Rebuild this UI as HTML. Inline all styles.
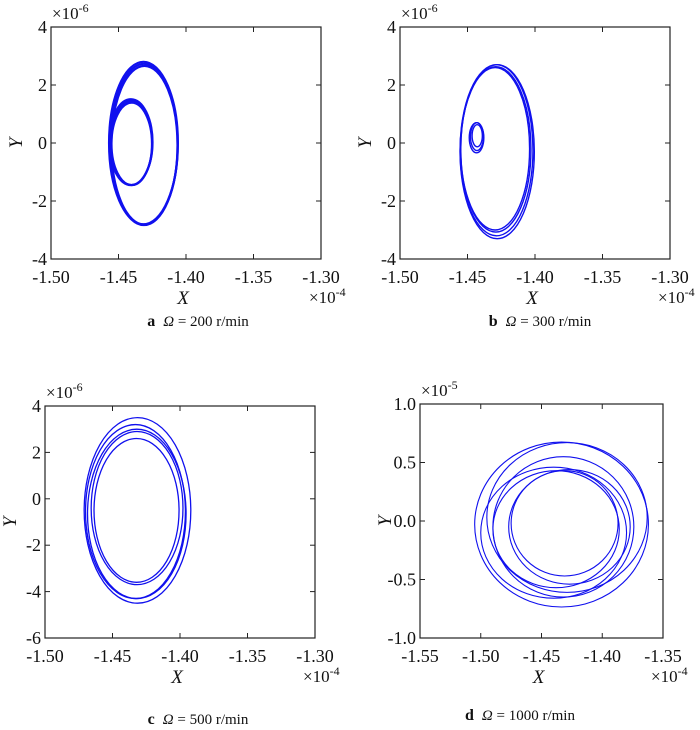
<!DOCTYPE html>
<html><head><meta charset="utf-8"><style>
body{margin:0;background:#fff;}
svg{display:block;font-family:"Liberation Serif",serif;}
</style></head><body>
<svg id="fig" width="700" height="730" viewBox="0 0 700 730"></svg>
<script>
// Panel a (Ω=200)
const aCx=[-1.4312,-1.4308,-1.4315,-1.4405,-1.4402,-1.4408];
const aCy=[-0.05,-0.08,0.0,0.0,-0.03,0.03];
const aRx=[0.0250,0.0245,0.0255,0.0155,0.0150,0.0160];
const aRy=[2.78,2.74,2.80,1.45,1.42,1.48];
// Panel b (Ω=300)
const bCx=[-1.4285,-1.4290,-1.4280,-1.4295,-1.4430,-1.4428,-1.4433];
const bCy=[-0.25,-0.22,-0.30,-0.20,0.22,0.25,0.18];
const bRx=[0.0270,0.0260,0.0275,0.0255,0.0048,0.0038,0.0054];
const bRy=[2.95,2.85,3.00,2.80,0.48,0.38,0.52];
// Panel c (Ω=500)
const cCx=[-1.4315,-1.4320,-1.4318,-1.4322,-1.4330];
const cCy=[-0.50,-0.65,-0.40,-0.50,-0.55];
const cRx=[0.0395,0.0365,0.0340,0.0315,0.0370];
const cRy=[4.00,3.65,3.30,3.10,3.75];
// Panel d (Ω=1000)
const dCx=[-1.4335,-1.4290,-1.4320,-1.4380,-1.4310,-1.4400,-1.4270];
const dCy=[-0.03,0.03,-0.05,-0.07,-0.02,-0.10,-0.05];
const dRx=[0.0715,0.0660,0.0580,0.0520,0.0440,0.0600,0.0500];
const dRy=[0.705,0.640,0.600,0.500,0.450,0.560,0.490];

const aXTicks=["-1.50","-1.45","-1.40","-1.35","-1.30"];
const aYTicks=["-4","-2","0","2","4"];
const cYTicks=["-6","-4","-2","0","2","4"];
const dXTicks=["-1.55","-1.50","-1.45","-1.40","-1.35"];
const dYTicks=["-1.0","-0.5","0.0","0.5","1.0"];

const NS="http://www.w3.org/2000/svg";
const svg=document.getElementById('fig');
function mk(tag,attrs,parent,text){const e=document.createElementNS(NS,tag);for(const k in attrs)e.setAttribute(k,attrs[k]);if(text!==undefined)e.textContent=text;(parent||svg).appendChild(e);return e;}

function panel(id,box,xr,yr,xt,yt,ymul,cx,cy,rx,ry,sw,caption,capX,capY){
  const g=mk('g',{});
  
  
  const [L,T,R,B]=box;
  const sx=v=>L+(v-xr[0])/(xr[1]-xr[0])*(R-L);
  const sy=v=>B-(v-yr[0])/(yr[1]-yr[0])*(B-T);
  for(let i=0;i<cx.length;i++){
    const e=mk('ellipse',{cx:sx(cx[i]),cy:sy(cy[i]),rx:Math.abs(sx(cx[i]+rx[i])-sx(cx[i])),ry:Math.abs(sy(cy[i]+ry[i])-sy(cy[i])),fill:'none',stroke:'#1010ee','stroke-width':sw},g);
    
    
  }
  const fr=mk('rect',{x:L,y:T,width:R-L,height:B-T,fill:'none',stroke:'#222','stroke-width':1.2},g);
  
  
  xt.forEach((t,i)=>{
    const x=L+i*(R-L)/(xt.length-1);
    mk('line',{x1:x,y1:B,x2:x,y2:B-5,stroke:'#222'},g);
    mk('line',{x1:x,y1:T,x2:x,y2:T+5,stroke:'#222'},g);
    const tx=mk('text',{x:x,y:B+24,'text-anchor':'middle','font-size':18,fill:'#111'},g,t);
    
    
  });
  yt.forEach((t,i)=>{
    const y=B-i*(B-T)/(yt.length-1);
    mk('line',{x1:L,y1:y,x2:L+5,y2:y,stroke:'#222'},g);
    mk('line',{x1:R,y1:y,x2:R-5,y2:y,stroke:'#222'},g);
    const ty=mk('text',{x:L-4,y:y+6,'text-anchor':'end','font-size':18,fill:'#111'},g,t);
    
    
  });
  const xl=mk('text',{x:(L+R)/2-3,y:B+45,'text-anchor':'middle','font-size':19,'font-style':'italic',fill:'#111'},g,'X');
  
  
  const yl=mk('text',{x:0,y:0,'text-anchor':'middle','font-size':19,'font-style':'italic',fill:'#111',transform:`translate(${L-29},${(T+B)/2}) rotate(-90)`},g,'Y');
  
  
  const xm=mk('text',{x:R-12,y:B+44,'font-size':17,fill:'#111'},g);
  
  
  mk('tspan',{},xm,'×10');mk('tspan',{dy:-7,'font-size':12},xm,'-4');
  const ym=mk('text',{x:L+1,y:T-8,'font-size':17,fill:'#111'},g);
  
  
  mk('tspan',{},ym,'×10');mk('tspan',{dy:-7,'font-size':12},ym,ymul);
  const cp=mk('text',{x:capX,y:capY,'text-anchor':'middle','font-size':15,fill:'#111'},g);
  
  
  mk('tspan',{'font-weight':'bold','font-size':16},cp,caption[0]);
  mk('tspan',{'font-style':'italic',dx:8},cp,'Ω');
  mk('tspan',{},cp,' = '+caption[1]+' r/min');
}
panel('a',[51,27,321,259],[-1.5,-1.3],[-4,4],aXTicks,aYTicks,'-6',aCx,aCy,aRx,aRy,2.2,['a','200'],198,326);
panel('b',[400,27,670,259],[-1.5,-1.3],[-4,4],aXTicks,aYTicks,'-6',bCx,bCy,bRx,bRy,1.4,['b','300'],540,326);
panel('c',[45,406,315,638],[-1.5,-1.3],[-6,4],aXTicks,cYTicks,'-6',cCx,cCy,cRx,cRy,1.3,['c','500'],198,724);
panel('d',[420,404,663,638],[-1.55,-1.35],[-1,1],dXTicks,dYTicks,'-5',dCx,dCy,dRx,dRy,1.1,['d','1000'],520,720);
</script>
</body></html>
